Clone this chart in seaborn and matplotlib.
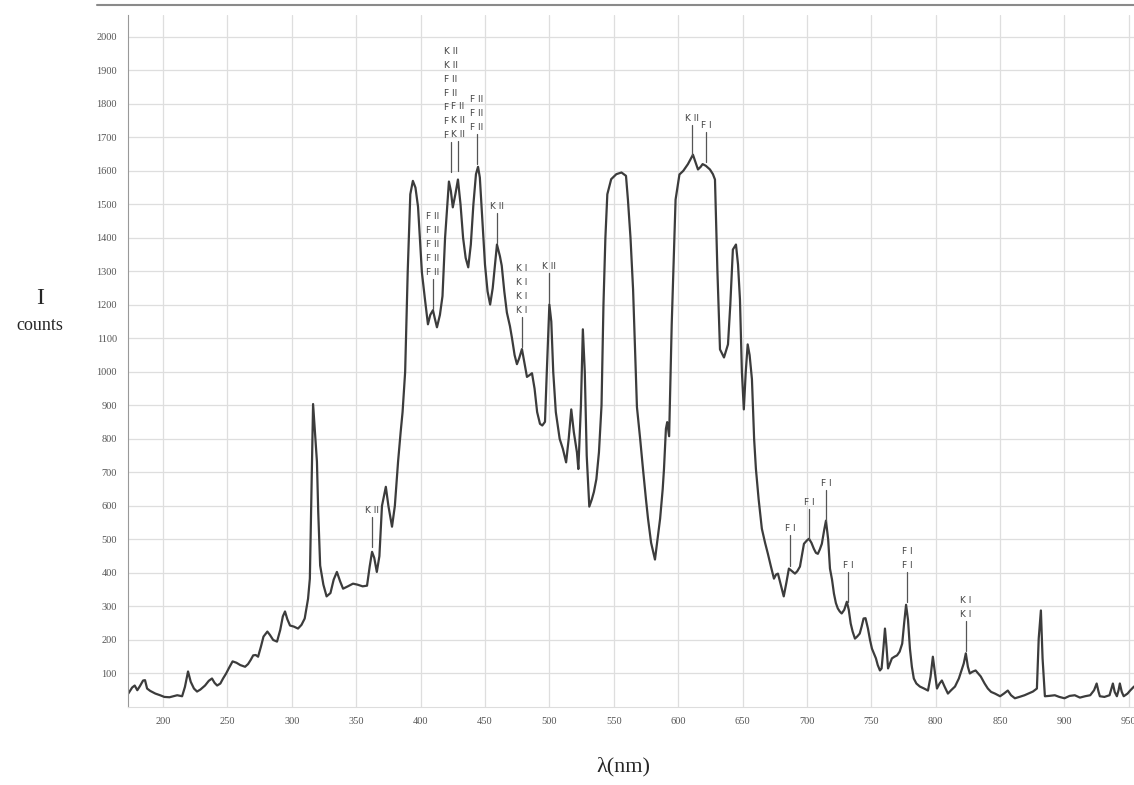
import matplotlib
matplotlib.use("Agg")
import matplotlib.pyplot as plt
import pandas as pd
import seaborn as sns
from matplotlib.lines import Line2D

# DATA: emission spectrum (wavelength nm, intensity counts)
wavelength = [
    173, 176, 178, 180, 182, 184.5, 186, 187.6, 190, 194, 197.7, 201, 205, 209, 211, 214.8,
    217, 219.4, 221.5, 224, 226.4, 229, 232.6, 235.5, 238, 240, 242, 244.5, 246.6, 249, 251,
    254, 257, 260, 263.7, 266, 268, 270, 272, 273.8, 276, 278, 281, 283, 285.5, 288.5, 291,
    293, 294.7, 296.5, 298.6, 301.5, 304.8, 307.5, 310, 312.6, 314, 315.5, 316.5, 318, 319.5,
    320.5, 322, 324.5, 327, 330, 332.5, 335, 337.5, 339.8, 343.5, 347.5, 351, 355, 358.4,
    360.5, 362.3, 364, 366, 368, 370, 373, 375, 377.8, 380, 382.5, 384.5, 386, 388, 390, 392,
    394, 396, 398, 401, 403.4, 405.7, 407.5, 409.6, 411, 412.7, 415, 417, 419, 422, 423.5,
    425, 427, 429, 431, 433, 435, 437, 439, 441, 443, 444.6, 446, 448, 450, 452, 454, 456,
    459.3, 461.6, 463, 465, 467, 469.4, 471, 473, 474.8, 476.5, 478.7, 480.5, 482.6, 484.5,
    486.5, 488.5, 490.5, 492.7, 494.5, 496.6, 498, 500, 501.5, 503, 505, 508, 510.5, 513,
    515, 517, 519, 521.4, 522.5, 524.5, 526, 527.5, 529, 531, 533, 534.6, 536.5, 538.5,
    540.5, 542, 543.5, 545, 548, 552, 556, 559.5, 561, 563, 565, 568, 570.5, 572.7, 575,
    576.6, 579, 582, 584, 586, 588, 589, 590.5, 591.5, 593, 595, 598, 601, 604, 607.6, 611.5,
    613.5, 615.4, 617.5, 619, 621.5, 624.7, 627, 628.6, 630.5, 632.5, 635.6, 638.7, 640.5,
    642.5, 644.9, 646.5, 648, 649.5, 651, 652.5, 654, 655.5, 657.3, 659, 660.4, 662.5, 665,
    667.5, 669.7, 672, 674.4, 676, 677.5, 680, 682, 684, 686, 688.5, 690.7, 692.5, 694.6,
    696.5, 697.7, 700, 701.6, 703.5, 705.4, 707, 708.5, 710, 711.6, 713.5, 714.8, 716.5,
    717.9, 719.5, 721, 722.5, 724, 725.5, 727, 729, 731, 732.5, 734, 735.5, 737.3, 739, 741,
    742.5, 744, 745.5, 747.4, 749, 750.5, 752, 753.6, 755, 756.7, 758, 759.5, 760.6, 761.8,
    763, 764.5, 766, 768, 770, 772, 774, 775.5, 777, 778.5, 780, 781.5, 783, 785, 787.7, 791,
    794, 796, 797.8, 799.5, 801, 803, 804.8, 807, 809.5, 812, 815, 818, 820, 821.8, 823.4,
    825, 826.5, 828.5, 831, 833, 835, 838, 840.5, 843, 846, 850, 853, 856, 858.5, 861.5, 865,
    869, 872, 875.5, 878.6, 880, 881.7, 883, 884.8, 888, 892.5, 896, 900, 904, 908, 912, 916,
    920, 923, 925, 926.5, 927.5, 931, 935, 936.5, 937.6, 939, 940.7, 942, 943, 944.5, 946,
    949, 951, 954,
]
intensity = [
    40, 58, 64, 50, 62, 79, 80, 55, 48, 40, 35, 30, 29, 33, 35, 32,
    60, 106, 75, 55, 46, 52, 64, 78, 85, 72, 64, 70, 85, 100, 115,
    136, 132, 125, 120, 128, 140, 154, 155, 150, 180, 210, 225, 215, 200, 195, 230,
    270, 285, 262, 243, 240, 234, 245, 264, 323, 383, 700, 904, 820, 732,
    582, 422, 365, 330, 340, 380, 403, 375, 353, 360, 368, 365, 360, 362,
    420, 463, 445, 403, 450, 600, 657, 600, 538, 600, 732, 820, 880, 1000, 1300, 1530,
    1570, 1550, 1493, 1297, 1216, 1142, 1170, 1184, 1160, 1133, 1170, 1226, 1400, 1568, 1540,
    1491, 1530, 1574, 1500, 1400, 1340, 1312, 1380, 1500, 1590, 1612, 1580, 1450, 1320, 1240, 1201, 1250,
    1380, 1345, 1317, 1240, 1177, 1136, 1100, 1050, 1023, 1040, 1068, 1030, 985, 990,
    996, 950, 880, 845, 840, 851, 1000, 1201, 1150, 1000, 880, 800, 770, 730,
    800, 888, 820, 760, 710, 900, 1127, 1000, 750, 598, 620, 642, 680, 760,
    900, 1200, 1400, 1530, 1575, 1590, 1595, 1585, 1514, 1400, 1246, 895, 800, 710, 620,
    562, 490, 440, 500, 562, 650, 710, 830, 850, 808, 1141, 1514, 1589, 1600, 1620, 1648,
    1625, 1604, 1612, 1620, 1615, 1604, 1590, 1574, 1300, 1067, 1043, 1082, 1200,
    1365, 1380, 1320, 1216, 1000, 888, 1000, 1082, 1050, 978, 800, 710, 620, 532,
    490, 457, 420, 383, 395, 398, 360, 330, 370, 413, 405, 398, 405, 419,
    460, 487, 497, 502, 490, 472, 460, 457, 470, 487, 530, 556, 500,
    413, 380, 338, 310, 294, 285, 279, 290, 314, 290, 249, 225, 204, 210, 219,
    240, 264, 265, 234, 200, 174, 160, 145, 125, 109, 115, 180, 234, 180,
    115, 130, 145, 150, 154, 165, 189, 250, 305, 260, 174, 120, 85, 70, 61, 55,
    49, 90, 150, 100, 55, 70, 79, 60, 40, 50, 61, 85, 109, 130, 160,
    120, 100, 105, 109, 100, 91, 70, 55, 45, 40, 32, 40, 49, 35, 26, 30,
    35, 40, 46, 55, 204, 288, 145, 32, 33, 35, 30, 26, 33, 35, 28, 32,
    35, 50, 70, 45, 32, 30, 35, 55, 70, 45, 32, 50, 70, 45, 32,
    40, 49, 61,
]

# line annotations: wavelength of the marker, intensity at its lower end, stacked labels
ann_nm = [362.3, 409.6, 423.3, 429.3, 443.8, 459.3, 478.7, 499.7,
          610.7, 622.0, 686.8, 701.6, 714.8, 731.8, 777.6, 823.4]
ann_base = [478, 1187, 1595, 1598, 1619, 1384, 1074, 1206,
            1648, 1627, 422, 502, 556, 314, 314, 166]
ann_labels = [
    ["K II"], ["F II"] * 5, ["K II", "K II", "F II", "F II", "F", "F", "F"],
    ["F II", "K II", "K II"], ["F II"] * 3, ["K II"], ["K I"] * 4, ["K II"],
    ["K II"], ["F I"], ["F I"], ["F I"], ["F I"], ["F I"], ["F I", "F I"], ["K I", "K I"],
]

df = pd.DataFrame({"wavelength": wavelength, "intensity": intensity})

sns.set_style("whitegrid")
plt.rcParams["font.family"] = ["DejaVu Sans"]

fig = plt.figure(figsize=(11.34, 7.85), dpi=100)
ax = fig.add_axes([0.1129, 0.0994, 0.8871, 0.8815])

sns.lineplot(data=df, x="wavelength", y="intensity", ax=ax, color="#3c3c3c",
             linewidth=1.6, estimator=None, sort=False,
             solid_joinstyle="round", solid_capstyle="round")

# marker lines with stacked element labels
for nm, base, labels in zip(ann_nm, ann_base, ann_labels):
    ax.plot([nm, nm], [base, base + 90], color="#555555", linewidth=0.9)
    ax.text(nm, base + 96, "\n".join(labels), ha="center", va="bottom",
            multialignment="left", fontsize=6.5, color="#444444", linespacing=1.72)

ax.set_xlim(172.8, 954)
ax.set_ylim(0, 2065)
ax.set_xticks(range(200, 951, 50))
ax.set_yticks(range(100, 2001, 100))
ax.grid(True, color="#dedede", linewidth=0.9)
ax.set_xlabel("")
ax.set_ylabel("")
for lab in ax.get_xticklabels() + ax.get_yticklabels():
    lab.set_family("Liberation Serif")
    lab.set_fontsize(7.5)
    lab.set_color("#555555")
ax.tick_params(axis="y", length=4, color="#aaaaaa", pad=4)
ax.tick_params(axis="x", length=0, pad=7)

for side in ["top", "right"]:
    ax.spines[side].set_visible(False)
ax.spines["left"].set_color("#999999")
ax.spines["left"].set_linestyle((0, (2, 1)))
ax.spines["bottom"].set_color("#dddddd")

# frame line across the top of the image
fig.add_artist(Line2D([97 / 1134, 1.0], [1 - 5 / 785] * 2, color="#8a8a8a", linewidth=1.5))

fig.text(40 / 1134, 1 - 298 / 785, "I", family="Liberation Serif", fontsize=17,
         ha="center", va="center")
fig.text(40 / 1134, 1 - 326 / 785, "counts", family="Liberation Serif", fontsize=13,
         ha="center", va="center")
fig.text(623 / 1134, 1 - 767 / 785, "λ(nm)", family="Liberation Serif", fontsize=16,
         ha="center", va="center")

fig.savefig("out.png", dpi=100)
